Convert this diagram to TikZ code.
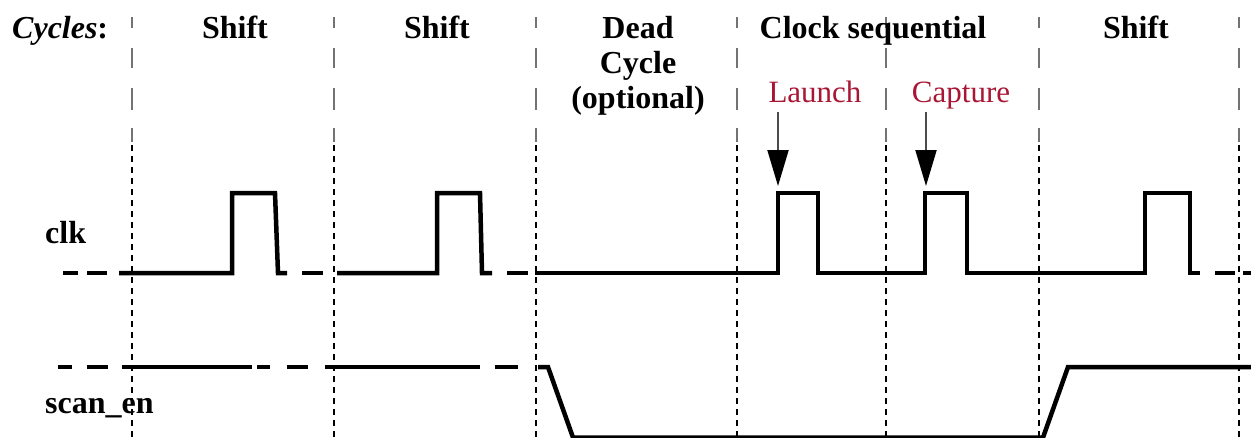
\documentclass[tikz,border=0pt]{standalone}
\usepackage{fontspec}
\setmainfont{Liberation Serif}
\usetikzlibrary{arrows.meta}
\definecolor{lblred}{RGB}{168,22,52}
\definecolor{gridgray}{RGB}{115,115,115}
\begin{document}
\begin{tikzpicture}[x=1pt,y=-1pt,
  hdr/.style={font=\fontsize{32}{35}\selectfont\bfseries, anchor=base, inner sep=0pt},
  lbl/.style={font=\fontsize{32}{35}\selectfont\bfseries, anchor=base west, inner sep=0pt},
  evt/.style={font=\fontsize{31}{35}\selectfont, text=lblred, anchor=base, inner sep=0pt},
  wave/.style={line width=4.5pt, line join=miter, line cap=butt},
  topdash/.style={gridgray, line width=2.6pt, dash pattern=on 11pt off 20pt on 20pt off 20pt on 22pt off 18pt on 20pt},
  lowdot/.style={black, line width=1.6pt, dash pattern=on 6pt off 5pt},
  evarrow/.style={gray!60!black, line width=2pt, -{Triangle[length=36pt,width=21pt,color=black]}}]
\useasboundingbox (0,0) rectangle (1251,437);

% cycle boundaries
\foreach \x in {132,334,536,737,886,1039,1239}{
  \draw[topdash] (\x,17) -- (\x,142);
  \draw[lowdot] (\x,145) -- (\x,437);
}

% header texts
\node[hdr, anchor=base west] (cyc) at (12,38) {\textit{Cycles}:};
\node[hdr] (sh1) at (235,38) {Shift};
\node[hdr] (sh2) at (437,38) {Shift};
\node[hdr] (dead1) at (638,38) {Dead};
\node[hdr] (dead2) at (638,73) {Cycle};
\node[hdr] (dead3) at (638,108) {(optional)};
\node[hdr] (clkseq) at (873,38) {Clock sequential};
\node[hdr] (sh3) at (1136,38) {Shift};

\node[evt] (launch) at (815,102) {Launch};
\node[evt] (capture) at (961,102) {Capture};

% signal labels
\node[lbl] (clklbl) at (45,243) {clk};
\node[lbl] (scanlbl) at (45,413) {scan\_en};

% event arrows
\coordinate (la1) at (778,112);
\coordinate (la2) at (778,186);
\coordinate (ca1) at (926,112);
\coordinate (ca2) at (926,186);
\draw[evarrow] (la1) -- (la2);
\draw[evarrow] (ca1) -- (ca2);

% clk waveform
\draw[wave] (63,273) -- (78,273);
\draw[wave] (87,273) -- (107,273);
\draw[wave] (119,273) -- (232,273) -- (232,193) -- (275,193) -- (278,273) -- (287,273);
\draw[wave] (302,273) -- (323,273);
\draw[wave] (337,273) -- (437,273) -- (437,193) -- (480,193) -- (482,273) -- (492,273);
\draw[wave] (507,273) -- (528,273);
\draw[wave] (535,273) -- (778,273) -- (778,193) -- (818,193) -- (818,273)
  -- (925,273) -- (925,193) -- (967,193) -- (967,273)
  -- (1145,273) -- (1145,193) -- (1190,193) -- (1190,273) -- (1200,273);
\draw[wave] (1215,273) -- (1235,273);
\draw[wave] (1243,273) -- (1251,273);

% scan_en waveform
\draw[wave] (58,367) -- (72,367);
\draw[wave] (87,367) -- (108,367);
\draw[wave] (122,367) -- (252,367);
\draw[wave] (257,367) -- (270,367);
\draw[wave] (287,367) -- (308,367);
\draw[wave] (325,367) -- (480,367);
\draw[wave] (495,367) -- (518,367);
\draw[wave] (538,367) -- (548,367) -- (573,437.5) -- (1043,437.5) -- (1068,367) -- (1251,367);
\end{tikzpicture}
\end{document}
